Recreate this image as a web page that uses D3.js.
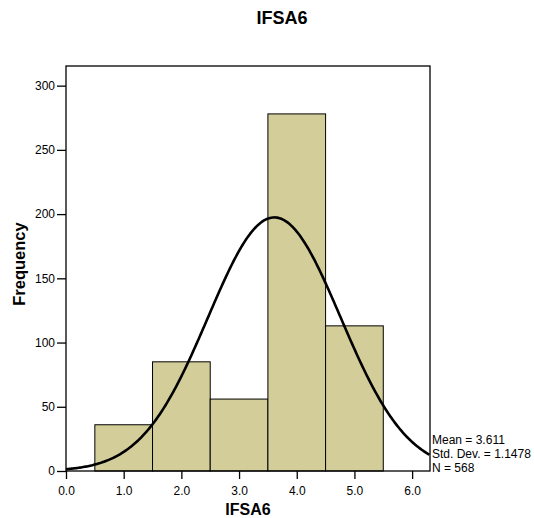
<!DOCTYPE html>
<html>
<head>
<meta charset="utf-8">
<script src="https://cdn.jsdelivr.net/npm/d3@7"></script>
<style>
  body { margin: 0; background: #fff; }
  text { font-family: "Liberation Sans", Arial, sans-serif; }
</style>
</head>
<body>
<svg id="chart" width="534" height="518"></svg>
<script>
// histogram bins (lower, upper edges) and counts
var binLo = [0.5, 1.5, 2.5, 3.5, 4.5];
var binHi = [1.5, 2.5, 3.5, 4.5, 5.5];
var counts = [36, 85, 56, 278, 113];
var xTicks = [0, 1, 2, 3, 4, 5, 6];
var yTicks = [0, 50, 100, 150, 200, 250, 300];
var statMean = 3.611, statSd = 1.1478, statN = 568;
var statLines = ["Mean = 3.611", "Std. Dev. = 1.1478", "N = 568"];

const svg = d3.select("#chart");
const plotL = 66, plotR = 430, plotT = 66, plotB = 471;

const x = d3.scaleLinear().domain([0, 6.31]).range([plotL, plotR]);
const y = d3.scaleLinear().domain([0, 315.3]).range([plotB, plotT]);

// bars
svg.selectAll(".bar")
    .data(counts)
    .enter().append("rect")
    .attr("class", "bar")
    .attr("x", (d, i) => x(binLo[i]))
    .attr("width", (d, i) => x(binHi[i]) - x(binLo[i]))
    .attr("y", d => y(d))
    .attr("height", d => y(0) - y(d))
    .style("fill", "#d3ce99")
    .style("stroke", "#000")
    .style("stroke-width", 1);

// fitted normal curve from mean / sd / N (bin width 1)
const curvePts = d3.range(0, 6.311, 0.02).map(v => [v,
    statN * 1 / (statSd * Math.sqrt(2 * Math.PI)) * Math.exp(-0.5 * Math.pow((v - statMean) / statSd, 2))]);
svg.append("path")
    .datum(curvePts)
    .attr("d", d3.line().x(d => x(d[0])).y(d => y(d[1])))
    .style("fill", "none")
    .style("stroke", "#000")
    .style("stroke-width", 2.6);

// frame
svg.append("rect")
    .attr("x", plotL).attr("y", plotT)
    .attr("width", plotR - plotL).attr("height", plotB - plotT)
    .style("fill", "none").style("stroke", "#000").style("stroke-width", 1.3);

// axes
const yAxis = svg.append("g")
    .attr("transform", `translate(${plotL},0)`)
    .call(d3.axisLeft(y).tickValues(yTicks).tickSize(9).tickPadding(2).tickFormat(d3.format("d")));
const xAxis = svg.append("g")
    .attr("transform", `translate(0,${plotB})`)
    .call(d3.axisBottom(x).tickValues(xTicks).tickSize(8).tickPadding(7).tickFormat(d3.format(".1f")));
[xAxis, yAxis].forEach(a => {
    a.select(".domain").remove();
    a.selectAll("line").style("stroke", "#000").style("stroke-width", 1.3);
    a.selectAll("text").style("font-size", "12px").style("fill", "#000")
        .style("font-family", "'Liberation Sans', Arial, sans-serif");
});

// titles
svg.append("text").attr("x", 282).attr("y", 24).attr("text-anchor", "middle")
    .style("font-size", "18px").style("font-weight", "bold").text("IFSA6");
svg.append("text").attr("x", 248).attr("y", 515).attr("text-anchor", "middle")
    .style("font-size", "16px").style("font-weight", "bold").text("IFSA6");
svg.append("text").attr("transform", "translate(25,264) rotate(-90)").attr("text-anchor", "middle")
    .style("font-size", "16.5px").style("font-weight", "bold").text("Frequency");

// stats
svg.selectAll(".stat")
    .data(statLines)
    .enter().append("text")
    .attr("class", "stat")
    .attr("x", plotR + 2)
    .attr("y", (d, i) => 443.5 + i * 14)
    .style("font-size", "12px")
    .text(d => d);
</script>
</body>
</html>
